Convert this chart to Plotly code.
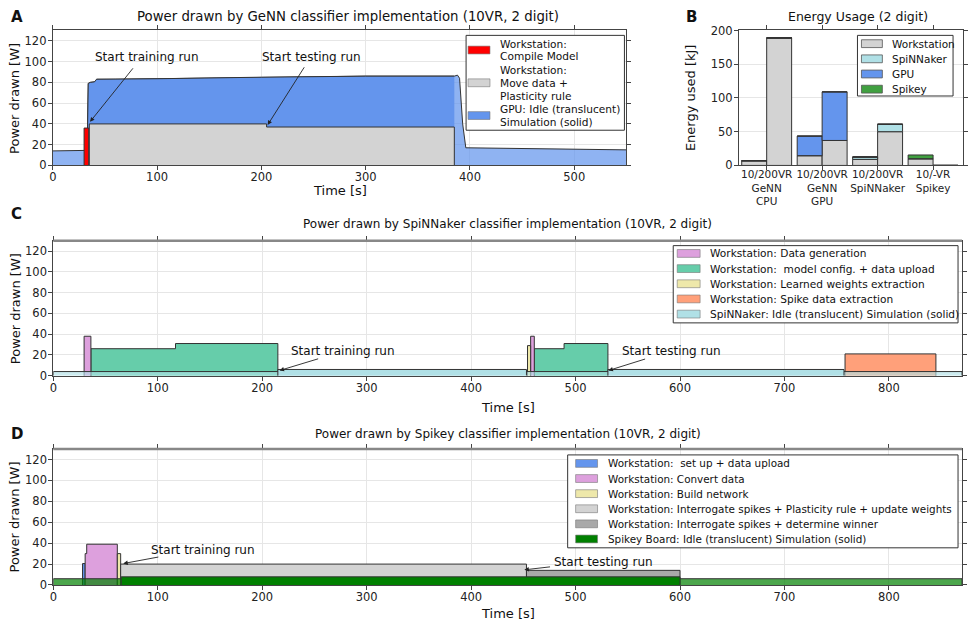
import plotly.graph_objects as go

W, H = 968, 636
FONT = "DejaVu Sans"

# ---------------- Panel A: GeNN power trace ----------------
gpu_time = [0, 30, 33, 34, 36, 40, 42, 60, 100, 200, 300, 385, 388, 390, 393, 396, 450, 550]
gpu_power = [14, 14, 14.5, 79, 80, 80.5, 83, 83, 83.5, 85, 86, 86, 87, 84, 40, 17, 16.5, 15]
gpu_sim_window = [33, 385]
compile_edges = [30, 34.5]
compile_levels = [36]
move_edges = [35, 205, 385]
move_levels = [40, 37]
a_legend_labels = [["Workstation:", "Compile Model"],
                   ["Workstation:", "Move data +", "Plasticity rule"],
                   ["GPU: Idle (translucent)", "Simulation (solid)"]]

# ---------------- Panel B: energy usage ----------------
b_categories = ["10/200VR<br>GeNN<br>CPU", "10/200VR<br>GeNN<br>GPU", "10/200VR<br>SpiNNaker", "10/-VR<br>Spikey"]
b_series = ["Workstation", "SpiNNaker", "GPU", "Spikey"]
ws_10 = [7, 14.5, 9, 10]
ws_200 = [189, 37, 50, 0]
spinn_10 = [0, 0, 3.5, 0]
spinn_200 = [0, 0, 11, 0]
gpu_10 = [0, 29, 0, 0]
gpu_200 = [0, 72, 0, 0]
spikey_10 = [0, 0, 0, 5.5]
spikey_200 = [0, 0, 0, 0]

# ---------------- Panel C: SpiNNaker power trace ----------------
c_datagen = [([29.5, 36], [38]), ([457, 460.5], [38])]
c_config = [([36, 117, 215], [26, 31]), ([460.5, 489, 531], [26, 31])]
c_weights = [([454, 457], [29])]
c_spike = [([758, 845], [21])]
c_spinn_idle = [([0, 870], [4])]
c_spinn_sim = [([215, 453], [6]), ([531, 757], [6])]
c_legend_labels = ["Workstation: Data generation",
                   "Workstation:  model config. + data upload",
                   "Workstation: Learned weights extraction",
                   "Workstation: Spike data extraction",
                   "SpiNNaker: Idle (translucent) Simulation (solid)"]

# ---------------- Panel D: Spikey power trace ----------------
d_setup = [([28, 30.5], [20.5])]
d_convert = [([30.5, 32, 61.3], [30, 39])]
d_build = [([61.3, 64.5], [30])]
d_plast = [([64.5, 453], [20])]
d_winner = [([453, 600], [14])]
d_spikey_idle = [([0, 870], [6])]
d_spikey_sim = [([65, 600], [7.8])]
d_legend_labels = ["Workstation:  set up + data upload",
                   "Workstation: Convert data",
                   "Workstation: Build network",
                   "Workstation: Interrogate spikes + Plasticity rule + update weights",
                   "Workstation: Interrogate spikes + determine winner",
                   "Spikey Board: Idle (translucent) Simulation (solid)"]

# colours
RED, LGREY, DGREY = "#FF0000", "#D3D3D3", "#A9A9A9"
CBLUE, CBLUE_T = "#6495ED", "rgba(100,149,237,0.72)"
PLUM, AQUA, GOLD, SALMON = "#DDA0DD", "#66CDAA", "#EEE8AA", "#FFA07A"
PBLUE, PBLUE_T = "#B0E0E6", "rgba(176,224,230,0.65)"
GREEN, GREEN_T, BGREEN = "#008000", "rgba(0,128,0,0.7)", "#40A040"


def step_poly(segments):
    xs, ys = [], []
    for edges, levels in segments:
        if xs:
            xs.append(None); ys.append(None)
        xs.append(edges[0]); ys.append(0)
        for i, lv in enumerate(levels):
            xs += [edges[i], edges[i + 1]]
            ys += [lv, lv]
        xs.append(edges[-1]); ys.append(0)
    return xs, ys


fig = go.Figure()
LINE = dict(color="#333333", width=1)


def area(segments, color, xa, ya):
    xs, ys = step_poly(segments)
    fig.add_trace(go.Scatter(x=xs, y=ys, fill="toself", fillcolor=color, mode="lines",
                             line=LINE, xaxis=xa, yaxis=ya, showlegend=False, hoverinfo="skip"))


# ---- A traces
fig.add_trace(go.Scatter(x=gpu_time, y=gpu_power, fill="tozeroy", fillcolor=CBLUE_T,
                         mode="lines", line=LINE, showlegend=False, xaxis="x", yaxis="y",
                         hoverinfo="skip"))
sim_t = [t for t in gpu_time if gpu_sim_window[0] <= t <= gpu_sim_window[1]]
sim_p = [p for t, p in zip(gpu_time, gpu_power) if gpu_sim_window[0] <= t <= gpu_sim_window[1]]
fig.add_trace(go.Scatter(x=sim_t, y=sim_p, fill="tozeroy", fillcolor=CBLUE, mode="lines",
                         line=LINE, showlegend=False, xaxis="x", yaxis="y", hoverinfo="skip"))
area([(compile_edges, compile_levels)], RED, "x", "y")
area([(move_edges, move_levels)], LGREY, "x", "y")

# ---- B traces
xl = [i - 0.225 for i in range(len(b_categories))]
xr = [i + 0.225 for i in range(len(b_categories))]
bx = xl + xr
b_colors = [LGREY, PBLUE, CBLUE, BGREEN]
for name, v10, v200, col in zip(b_series, [ws_10, spinn_10, gpu_10, spikey_10],
                                [ws_200, spinn_200, gpu_200, spikey_200], b_colors):
    fig.add_trace(go.Bar(x=bx, y=v10 + v200, width=0.45, name=name,
                         marker=dict(color=col, line=dict(color="#333", width=1)),
                         xaxis="x2", yaxis="y2", showlegend=False, hoverinfo="skip"))

# ---- C traces
area(c_config, AQUA, "x3", "y3")
area(c_datagen, PLUM, "x3", "y3")
area(c_weights, GOLD, "x3", "y3")
area(c_spike, SALMON, "x3", "y3")
area(c_spinn_idle, PBLUE_T, "x3", "y3")
area(c_spinn_sim, PBLUE, "x3", "y3")

# ---- D traces
area(d_setup, CBLUE, "x4", "y4")
area(d_convert, PLUM, "x4", "y4")
area(d_build, GOLD, "x4", "y4")
area(d_plast, LGREY, "x4", "y4")
area(d_winner, DGREY, "x4", "y4")
area(d_spikey_idle, GREEN_T, "x4", "y4")
area(d_spikey_sim, GREEN, "x4", "y4")


def px_x(v):
    return v / W


def px_y(v):
    return 1 - v / H


AX = dict(showline=True, linecolor="#444", linewidth=1, mirror="ticks", ticks="outside", ticklen=4,
          tickcolor="#444", showgrid=True, gridcolor="#E6E6E6", gridwidth=1, zeroline=False,
          tickfont=dict(family=FONT, size=11.5, color="#222"))
XA = dict(AX, ticklabelstandoff=-3)
YA = dict(AX, ticklabelstandoff=-1)

yticks = [0, 20, 40, 60, 80, 100, 120]
fig.update_layout(
    width=W, height=H, margin=dict(l=0, r=0, t=0, b=0),
    paper_bgcolor="white", plot_bgcolor="white",
    font=dict(family=FONT, size=12, color="#111"),
    barmode="relative", showlegend=False,
    xaxis=dict(XA, domain=[px_x(49), px_x(625)], range=[0, 550], dtick=100, anchor="y"),
    yaxis=dict(YA, domain=[px_y(162), px_y(24)], range=[0, 130], tickvals=yticks, anchor="x"),
    xaxis2=dict(XA, domain=[px_x(738), px_x(963)], range=[-0.5, 3.54], tickvals=list(range(4)),
                ticktext=b_categories, showgrid=False, anchor="y2", tickangle=0, ticklabelstandoff=-5,
                tickfont=dict(family=FONT, size=10.5, color="#222")),
    yaxis2=dict(YA, domain=[px_y(162), px_y(24)], range=[0, 200], dtick=50, anchor="x2"),
    xaxis3=dict(XA, domain=[px_x(49.5), px_x(962)], range=[0, 870], dtick=100, anchor="y3"),
    yaxis3=dict(YA, domain=[px_y(377), px_y(239)], range=[0, 130], tickvals=yticks, anchor="x3"),
    xaxis4=dict(XA, domain=[px_x(49.5), px_x(962)], range=[0, 870], dtick=100, anchor="y4"),
    yaxis4=dict(YA, domain=[px_y(591), px_y(452)], range=[0, 130], tickvals=yticks, anchor="x4"),
)

ann = []
shapes = []


def text(x, y, s, size=12, bold=False, xanchor="center", angle=0):
    ann.append(dict(x=px_x(x), y=px_y(y), xref="paper", yref="paper", text=f"<b>{s}</b>" if bold else s,
                    showarrow=False, xanchor=xanchor, yanchor="middle", textangle=angle,
                    font=dict(family=FONT, size=size, color="#111")))


def rect(x0, y0, x1, y1, fill, line_color="#333", lw=1):
    shapes.append(dict(type="rect", xref="paper", yref="paper", x0=px_x(x0), x1=px_x(x1),
                       y0=px_y(y1), y1=px_y(y0), fillcolor=fill, layer="above",
                       line=dict(color=line_color, width=lw)))


# thicker top frame in C and D
for ytop in (239, 452):
    shapes.append(dict(type="line", xref="paper", yref="paper", x0=px_x(49.5), x1=px_x(962),
                       y0=px_y(ytop), y1=px_y(ytop), line=dict(color="#888", width=2.5), layer="above"))

# panel letters and titles
text(5, 10, "A", 15, True, "left")
text(683, 10, "B", 15, True, "left")
text(5, 212, "C", 15, True, "left")
text(5, 437, "D", 15, True, "left")
text(345, 10, "Power drawn by GeNN classifier implementation (10VR, 2 digit)", 13.3)
text(858, 10, "Energy Usage (2 digit)", 12.5)
text(506, 222, "Power drawn by SpiNNaker classifier implementation (10VR, 2 digit)", 12)
text(506, 437, "Power drawn by Spikey classifier implementation (10VR, 2 digit)", 12)
text(337, 188, "Time [s]", 13)
text(506, 410, "Time [s]", 13)
text(506, 620, "Time [s]", 13)
text(11, 93, "Power drawn [W]", 13, angle=-90)
text(11, 308, "Power drawn [W]", 13, angle=-90)
text(11, 521, "Power drawn [W]", 13, angle=-90)
text(690, 93, "Energy used [kJ]", 13, angle=-90)

# ---- manual legends
# A
rect(464, 29, 623, 126, "white")
a_patch_y = [44, 77.5, 111]
a_colors = [RED, LGREY, CBLUE]
for yc, col, lines in zip(a_patch_y, a_colors, a_legend_labels):
    rect(466, yc - 4, 488, yc + 4, col, "#777", 0.6)
    n = len(lines)
    for k, ln in enumerate(lines):
        text(496, yc + (k - (n - 1) / 2) * 13, ln, 10.6, xanchor="left")
# B
rect(857, 29, 953, 91, "white")
for k, (name, col) in enumerate(zip(b_series, b_colors)):
    yc = 37.5 + k * 15.5
    rect(861, yc - 4, 882, yc + 4, col, "#555", 0.8)
    text(890, yc, name, 10.5, xanchor="left")
# C
rect(672, 244, 958, 323, "white")
c_colors = [PLUM, AQUA, GOLD, SALMON, PBLUE]
for k, (name, col) in enumerate(zip(c_legend_labels, c_colors)):
    yc = 252 + k * 15.5
    rect(676, yc - 4, 699, yc + 4, col, "#777", 0.6)
    text(707, yc, name, 10.6, xanchor="left")
# D
rect(566, 458, 958, 553, "white")
d_colors = [CBLUE, PLUM, GOLD, LGREY, DGREY, GREEN]
for k, (name, col) in enumerate(zip(d_legend_labels, d_colors)):
    yc = 466.7 + k * 15.45
    rect(574, yc - 4, 596, yc + 4, col, "#777", 0.6)
    text(604, yc, name, 10.4, xanchor="left")


def arrow(xa, ya, head, tail, label, label_pos):
    ann.append(dict(x=head[0], y=head[1], ax=tail[0], ay=tail[1], xref=xa, yref=ya, axref=xa, ayref=ya,
                    text="", showarrow=True, arrowhead=2, arrowsize=1, arrowwidth=0.9, arrowcolor="#222"))
    ann.append(dict(x=label_pos[0], y=label_pos[1], xref=xa, yref=ya, text=label, showarrow=False,
                    xanchor="center", yanchor="middle", font=dict(family=FONT, size=12, color="#111")))


arrow("x", "y", (35.7, 42), (78, 95), "Start training run", (90, 104))
arrow("x", "y", (206, 39), (242, 96), "Start testing run", (248, 104))
arrow("x3", "y3", (216.6, 5), (255, 16.7), "Start training run", (277, 23.5))
arrow("x3", "y3", (531.5, 5), (568, 16.5), "Start testing run", (592, 23.5))
arrow("x4", "y4", (67, 20.5), (102, 27), "Start training run", (143, 33.3))
arrow("x4", "y4", (451, 14.5), (477, 17.5), "Start testing run", (527, 22))

fig.update_layout(annotations=ann, shapes=shapes)
fig.write_html("out.html", config={"displayModeBar": False},
               post_script="document.body.style.margin='0';document.body.style.overflow='hidden';")
